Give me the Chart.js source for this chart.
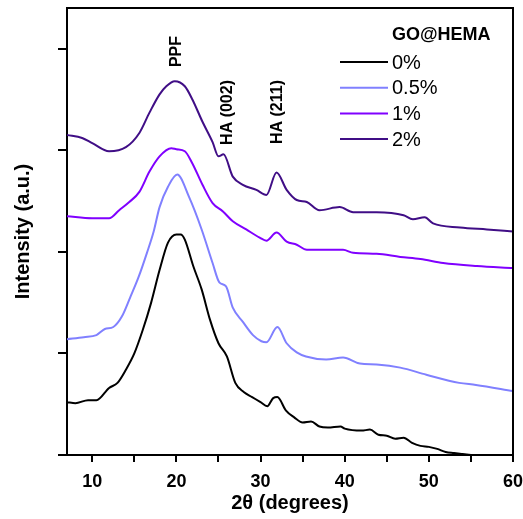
<!DOCTYPE html>
<html>
<head>
<meta charset="utf-8">
<script src="https://cdn.jsdelivr.net/npm/chart.js@4"></script>
<style>
  html, body { margin: 0; padding: 0; background: #fff; }
  #wrap { width: 523px; height: 519px; }
</style>
</head>
<body>
<div id="wrap"><canvas id="xrd"></canvas></div>
<script>
// valores (2theta, intensidad con desplazamiento)
const theta0 = [7, 8, 9.5, 10.5, 12, 13, 14, 15, 16, 17, 18, 19, 20, 20.5, 21, 22, 23, 24, 25, 26, 27, 28, 29, 30, 30.8, 31.5, 32, 33, 34, 35, 36, 37, 38, 39.5, 40, 42, 43, 44, 45, 46, 47, 48, 49, 50, 51, 52, 53, 54, 55];
const int0 = [0.52, 0.51, 0.54, 0.54, 0.66, 0.71, 0.84, 1.0, 1.23, 1.5, 1.82, 2.09, 2.17, 2.17, 2.12, 1.86, 1.63, 1.33, 1.1, 0.97, 0.71, 0.62, 0.57, 0.52, 0.48, 0.56, 0.57, 0.44, 0.37, 0.32, 0.33, 0.28, 0.27, 0.28, 0.26, 0.24, 0.25, 0.2, 0.19, 0.16, 0.17, 0.12, 0.09, 0.08, 0.06, 0.03, 0.02, 0.01, 0.0];

const theta05 = [7, 9, 10.5, 11.5, 12.5, 13.5, 14.5, 15.5, 16.5, 17.3, 18, 19, 20.1, 21.5, 23, 24.3, 25.1, 25.9, 26.7, 27.9, 29.1, 30.1, 30.7, 32, 33.1, 34.3, 35.4, 37.8, 39.8, 41.8, 43.8, 46.6, 49.7, 53.6, 55.6, 60];
const int05 = [1.14, 1.16, 1.18, 1.24, 1.26, 1.36, 1.55, 1.75, 1.99, 2.2, 2.44, 2.64, 2.76, 2.54, 2.22, 1.89, 1.7, 1.66, 1.45, 1.31, 1.18, 1.12, 1.11, 1.26, 1.1, 1.01, 0.97, 0.94, 0.96, 0.9, 0.89, 0.86, 0.79, 0.71, 0.69, 0.63];

const theta1 = [7, 10, 12, 13.2, 14.4, 15.6, 16.8, 18, 19.4, 20, 21, 21.9, 23.1, 24.3, 25.5, 26.7, 28.3, 29.9, 30.7, 31.9, 33.1, 34.3, 35.5, 37.8, 39.8, 41, 43.8, 46.6, 49, 51.7, 55.7, 60];
const int1 = [2.35, 2.33, 2.33, 2.41, 2.49, 2.59, 2.79, 2.94, 3.02, 3.01, 2.99, 2.87, 2.66, 2.48, 2.4, 2.3, 2.22, 2.14, 2.11, 2.19, 2.1, 2.07, 2.02, 2.02, 2.02, 1.99, 1.98, 1.95, 1.93, 1.89, 1.86, 1.84];

const theta2 = [7, 8.8, 10, 12, 14, 15.6, 16.8, 18, 18.8, 19.8, 21, 21.9, 23.1, 24.3, 25, 25.6, 26.7, 27.9, 29.5, 30.7, 31.9, 33.1, 34.3, 35.5, 37, 39.4, 41, 43.8, 47, 48.1, 49.5, 50.5, 53.7, 56.9, 60];
const int2 = [3.15, 3.12, 3.07, 2.99, 3.03, 3.17, 3.37, 3.55, 3.63, 3.68, 3.63, 3.5, 3.28, 3.08, 2.94, 2.96, 2.74, 2.66, 2.61, 2.56, 2.78, 2.61, 2.51, 2.49, 2.41, 2.44, 2.39, 2.39, 2.36, 2.32, 2.34, 2.28, 2.24, 2.22, 2.2];

const seriesNames = ['0%', '0.5%', '1%', '2%'];
const seriesColors = ['#000000', '#8080ff', '#8000ff', '#400e86'];

// etiquetas de picos: [texto, 2theta, y superior en px]
const peakLabels = [['PPF', 20, 36], ['HA (002)', 26.1, 80], ['HA (211)', 32, 80]];

function toXY(xs, ys) {
    return xs.map((x, i) => ({ x: x, y: ys[i] }));
}

const allTheta = [theta0, theta05, theta1, theta2];
const allInt = [int0, int05, int1, int2];

const datasets = seriesNames.map((name, i) => ({
    label: name,
    data: toXY(allTheta[i], allInt[i]),
    borderColor: seriesColors[i],
    borderWidth: 2,
    pointRadius: 0,
    cubicInterpolationMode: 'monotone',
    fill: false
}));

// Plugin para marco, etiquetas de picos y leyenda
const extras = {
    id: 'extras',
    afterDatasetsDraw(chart) {
        const ctx = chart.ctx;
        const xs = chart.scales.x;
        const a = chart.chartArea;
        ctx.save();

        // marco superior y derecho
        ctx.strokeStyle = '#000';
        ctx.lineWidth = 2;
        ctx.beginPath();
        ctx.moveTo(a.left, a.top);
        ctx.lineTo(a.right, a.top);
        ctx.lineTo(a.right, a.bottom);
        ctx.stroke();

        ctx.fillStyle = '#000';
        ctx.font = 'bold 16px Arial, "Liberation Sans", sans-serif';
        ctx.textAlign = 'right';
        ctx.textBaseline = 'middle';
        peakLabels.forEach(p => {
            ctx.save();
            ctx.translate(xs.getPixelForValue(p[1]), p[2]);
            ctx.rotate(-Math.PI / 2);
            ctx.fillText(p[0], 0, 0);
            ctx.restore();
        });

        // leyenda
        ctx.textAlign = 'left';
        ctx.font = 'bold 18px Arial, "Liberation Sans", sans-serif';
        ctx.fillText('GO@HEMA', 392, 35);
        ctx.font = '20px Arial, "Liberation Sans", sans-serif';
        chart.data.datasets.forEach((ds, i) => {
            const y = 62 + i * 25.7;
            ctx.strokeStyle = ds.borderColor;
            ctx.lineWidth = 2;
            ctx.beginPath();
            ctx.moveTo(340, y);
            ctx.lineTo(388, y);
            ctx.stroke();
            ctx.fillText(ds.label, 392, y + 1);
        });
        ctx.restore();
    }
};

new Chart(document.getElementById('xrd'), {
    type: 'line',
    data: { datasets: datasets },
    plugins: [extras],
    options: {
        responsive: true,
        maintainAspectRatio: false,
        animation: false,
        layout: { padding: { top: 8, right: 10, left: 0, bottom: 0 } },
        plugins: {
            legend: { display: false },
            tooltip: { enabled: false }
        },
        scales: {
            x: {
                type: 'linear',
                min: 7,
                max: 60,
                afterBuildTicks: s => {
                    s.ticks = [10, 15, 20, 25, 30, 35, 40, 45, 50, 55, 60].map(v => ({ value: v }));
                },
                afterFit: s => {
                    s.height = 64;
                    s.paddingRight = 0;
                    s.paddingLeft = 0;
                },
                ticks: {
                    color: '#000',
                    font: { family: 'Arial, "Liberation Sans", sans-serif', size: 18, weight: 'bold' },
                    padding: 9,
                    maxRotation: 0,
                    autoSkip: false,
                    callback: v => (v % 10 === 0 ? v : '')
                },
                grid: { drawOnChartArea: false, drawTicks: true, tickLength: 7, color: '#000', lineWidth: 2 },
                border: { color: '#000', width: 2 },
                title: {
                    display: true,
                    text: '2θ (degrees)',
                    color: '#000',
                    font: { family: 'Arial, "Liberation Sans", sans-serif', size: 20, weight: 'bold' },
                    padding: { top: 0 }
                }
            },
            y: {
                min: 0,
                max: 4.4,
                afterBuildTicks: s => {
                    s.ticks = [0, 1, 2, 3, 4].map(v => ({ value: v }));
                },
                afterFit: s => { s.width = 67; },
                ticks: { display: true, callback: () => '', padding: 0 },
                grid: { drawOnChartArea: false, drawTicks: true, tickLength: 9, color: '#000', lineWidth: 2 },
                border: { color: '#000', width: 2 },
                title: {
                    display: true,
                    text: 'Intensity (a.u.)',
                    color: '#000',
                    font: { family: 'Arial, "Liberation Sans", sans-serif', size: 20, weight: 'bold' },
                    padding: { top: 11 }
                }
            }
        }
    }
});
</script>
</body>
</html>
